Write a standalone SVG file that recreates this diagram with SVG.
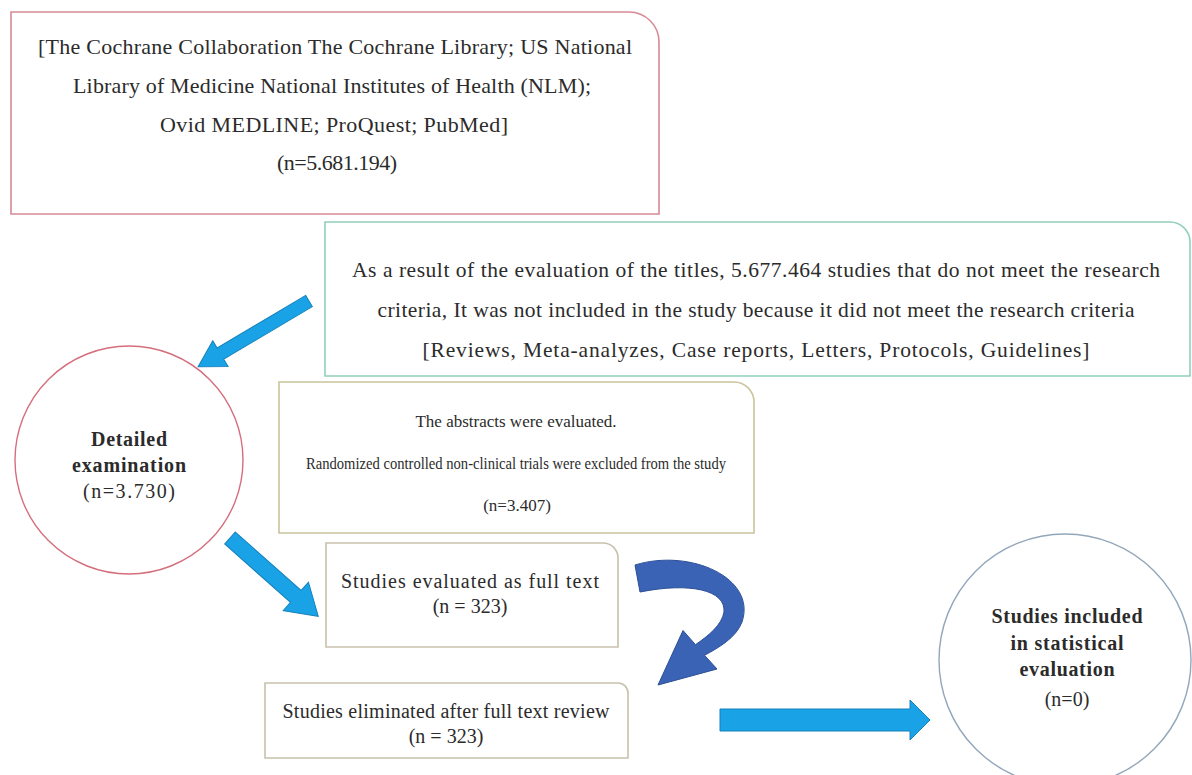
<svg xmlns="http://www.w3.org/2000/svg" width="1192" height="775" viewBox="0 0 1192 775">
<style>
.t{font-family:"Liberation Serif","Times New Roman",serif;font-size:20px;fill:#2b2b2b;text-anchor:middle}
.big{font-size:22px}
.mid{font-size:21.5px}
.sm{font-size:17px}
.b{font-weight:bold}
.box{fill:#ffffff;stroke-width:1.6}
.la{fill:#19a3e6;stroke:#1481bd;stroke-width:1}
.da{fill:#3a63b5;stroke:#2c4f96;stroke-width:1}
</style>
<rect width="1192" height="775" fill="#ffffff"/>
<g id="connectors">
  <polygon class="la" transform="translate(309,301) rotate(149.3)" points="0,-6.5 103,-6.5 103,-15 129,0 103,15 103,6.5 0,6.5"/>
  <polygon class="la" transform="translate(230,538) rotate(41.6)" points="0,-8 88,-8 88,-19 118,0 88,19 88,8 0,8"/>
  <polygon class="la" points="720,709 910,709 910,700 930,720 910,740 910,731 720,731"/>
  <path class="da" d="M635,565 C690,548 757,578 742,622 C736,638 718,648 704.5,655.3 L717,669 L658,685 L683,630.5 L695.5,644.7 C708,636 722,625 724,612 C726,590 690,582 640,592 Z"/>
</g>
<g id="databases">
  <path class="box" stroke="#d58a95" d="M11,12 H629 A30,30 0 0 1 659,42 V214 H11 Z"/>
  <text class="t big" x="335" y="54" textLength="594">[The Cochrane Collaboration The Cochrane Library;  US National</text>
  <text class="t big" x="332" y="93" textLength="518">Library of Medicine National Institutes of Health (NLM);</text>
  <text class="t big" x="334" y="132" textLength="348">Ovid MEDLINE;  ProQuest; PubMed]</text>
  <text class="t big" x="337" y="170" textLength="120">(n=5.681.194)</text>
</g>
<g id="titles-excluded">
  <path class="box" stroke="#92cfbb" d="M325,222 H1170 A20,20 0 0 1 1190,242 V376 H325 Z"/>
  <text class="t mid" x="756" y="277" textLength="808">As a result of the evaluation of the titles, 5.677.464 studies that do not meet the research</text>
  <text class="t mid" x="756" y="317" textLength="757">criteria, It was not included in the study because it did not meet the research  criteria</text>
  <text class="t mid" x="756" y="357" textLength="667">[Reviews, Meta-analyzes,  Case reports, Letters, Protocols, Guidelines]</text>
</g>
<g id="detailed">
  <circle cx="129" cy="460" r="114" fill="#ffffff" stroke="#d46e7c" stroke-width="1.4"/>
  <text class="t b" x="129" y="446" textLength="76">Detailed</text>
  <text class="t b" x="129" y="472" textLength="114">examination</text>
  <text class="t" x="129" y="498" textLength="92">(n=3.730)</text>
</g>
<g id="abstracts">
  <path class="box" stroke="#c9c59c" d="M279,382 H734 A20,20 0 0 1 754,402 V533 H279 Z"/>
  <text class="t sm" x="516" y="427">The abstracts  were  evaluated.</text>
  <text class="t" x="516" y="469" style="font-size:16px" textLength="420" lengthAdjust="spacingAndGlyphs">Randomized  controlled  non-clinical  trials were excluded from the study</text>
  <text class="t sm" x="517" y="511">(n=3.407)</text>
</g>
<g id="fulltext">
  <path class="box" stroke="#c8c1ab" d="M326,543 H603 A15,15 0 0 1 618,558 V647 H326 Z"/>
  <text class="t" x="470" y="588" textLength="258">Studies evaluated  as full text</text>
  <text class="t" x="470" y="613">(n = 323)</text>
</g>
<g id="eliminated">
  <path class="box" stroke="#c8c1ab" d="M265,683 H618 A10,10 0 0 1 628,693 V758 H265 Z"/>
  <text class="t" x="446" y="718" textLength="327">Studies eliminated  after  full text review</text>
  <text class="t" x="446" y="743">(n = 323)</text>
</g>
<g id="included">
  <circle cx="1065" cy="660" r="126" fill="#ffffff" stroke="#93a7bb" stroke-width="1.4"/>
  <text class="t b" x="1067" y="623" textLength="151">Studies included</text>
  <text class="t b" x="1067" y="650" textLength="113">in statistical</text>
  <text class="t b" x="1067" y="676" textLength="95">evaluation</text>
  <text class="t" x="1067" y="706">(n=0)</text>
</g>
</svg>
